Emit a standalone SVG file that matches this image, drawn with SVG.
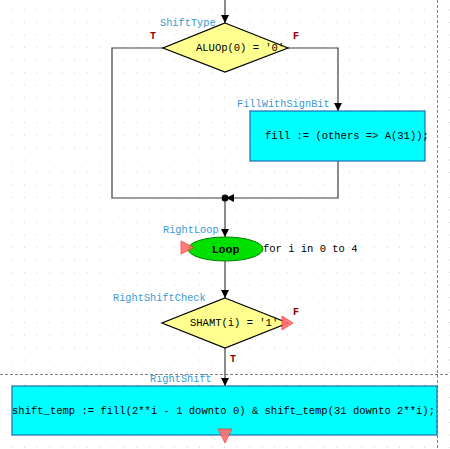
<svg xmlns="http://www.w3.org/2000/svg" width="450" height="449" viewBox="0 0 450 449">
<defs>
<pattern id="grid" patternUnits="userSpaceOnUse" x="0" y="0" width="12.5" height="12.5">
<rect x="12" y="9.5" width="1" height="1" fill="#a0a0a0"/>
</pattern>
<marker id="arr" viewBox="0 0 8 8" refX="8" refY="4" markerWidth="8" markerHeight="8" markerUnits="userSpaceOnUse" orient="auto">
<path d="M0,0 L8,4 L0,8 Z" fill="#000"/>
</marker>
</defs>
<style>
.conn{fill:none;stroke:#404040;stroke-width:1.2}
.lbl{font-family:"Liberation Mono",monospace;font-size:10.3px;fill:#3a9ad0}
.code{font-family:"Liberation Mono",monospace;font-size:10.5px;fill:#000}
.tf{font-family:"Liberation Mono",monospace;font-size:10px;font-weight:bold;fill:#8b0000}
.dia{fill:#ffff90;stroke:#000;stroke-width:1.2}
.box{fill:#00ffff;stroke:#1a6fb5;stroke-width:1.2}
.tri{fill:#ff7070;stroke:#ff3030;stroke-width:0.8;opacity:0.9}
.dash{stroke:#808080;stroke-width:1;stroke-dasharray:3,2}
</style>
<rect width="450" height="449" fill="#fff"/>
<rect width="450" height="449" fill="url(#grid)"/>
<line class="dash" x1="0" y1="374.5" x2="450" y2="374.5"/>
<line class="dash" x1="437.5" y1="0" x2="437.5" y2="449"/>
<g id="connectors">
<path class="conn" d="M225,0 V23" marker-end="url(#arr)"/>
<path class="conn" d="M163,48 H112 V198 H221"/>
<path class="conn" d="M288,48 H338 V111" marker-end="url(#arr)"/>
<path class="conn" d="M338,161 V198 H226" marker-end="url(#arr)"/>
<path class="conn" d="M225,198 V237" marker-end="url(#arr)"/>
<path class="conn" d="M225,261 V298" marker-end="url(#arr)"/>
<path class="conn" d="M225,348 V386" marker-end="url(#arr)"/>
<circle cx="225" cy="198" r="3.5" fill="#000"/>
</g>
<g id="ShiftType">
<polygon class="dia" points="225,23 288,48 225,72 163,48"/>
<text class="lbl" x="160" y="26">ShiftType</text>
<text class="code" x="196" y="51">ALUOp(0) = '0'</text>
<text class="tf" x="150" y="39">T</text>
<text class="tf" x="293" y="39">F</text>
</g>
<g id="FillWithSignBit">
<rect class="box" x="250" y="111" width="175" height="50"/>
<text class="lbl" x="237" y="107">FillWithSignBit</text>
<text class="code" x="265" y="139">fill := (others =&gt; A(31));</text>
</g>
<g id="RightLoop">
<ellipse cx="225.5" cy="249" rx="37.5" ry="12" fill="#00e000" stroke="#008000" stroke-width="1"/>
<text x="225.5" y="253" text-anchor="middle" font-family="Liberation Mono, monospace" font-size="11.5" font-weight="bold">Loop</text>
<polygon class="tri" points="181,241 194,247.5 181,254"/>
<text class="lbl" x="163" y="233">RightLoop</text>
<text class="code" x="263" y="252">for i in 0 to 4</text>
</g>
<g id="RightShiftCheck">
<polygon class="dia" points="225,298 288,323 225,348 162,323"/>
<text class="lbl" x="113" y="301">RightShiftCheck</text>
<text class="code" x="190" y="326">SHAMT(i) = '1'</text>
<polygon class="tri" points="282,316 293,323 282,330"/>
<text class="tf" x="293" y="315">F</text>
<text class="tf" x="230" y="362">T</text>
</g>
<g id="RightShift">
<rect class="box" x="12" y="386" width="425" height="49"/>
<text class="lbl" x="150" y="382">RightShift</text>
<text class="code" x="12" y="414" textLength="423">shift_temp := fill(2**i - 1 downto 0) &amp; shift_temp(31 downto 2**i);</text>
<polygon class="tri" points="218,429 232,429 225,443"/>
</g>
</svg>
